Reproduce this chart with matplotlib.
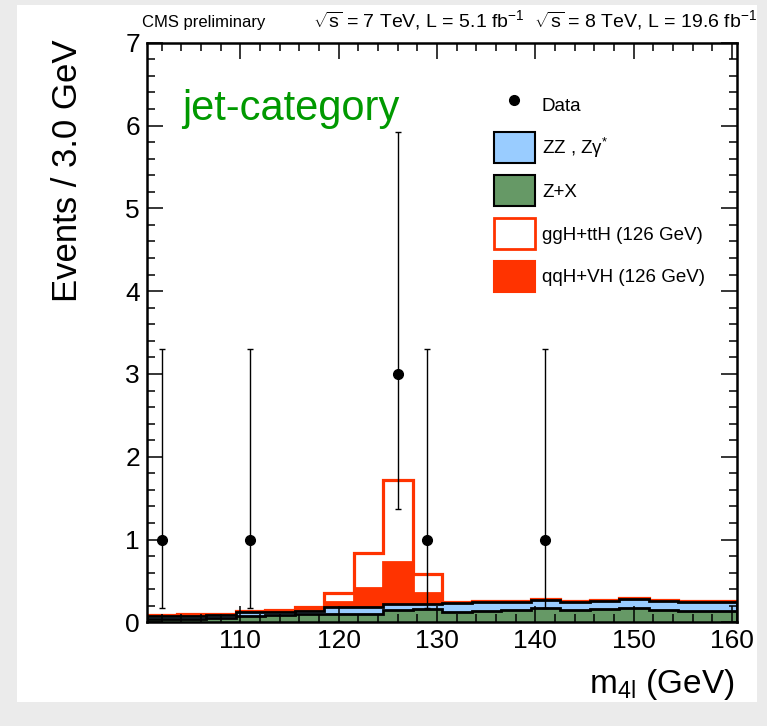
import numpy as np
import matplotlib.pyplot as plt
from matplotlib.patches import Patch, Rectangle
from matplotlib.lines import Line2D
from matplotlib.ticker import MultipleLocator

plt.rcParams['font.family'] = 'Liberation Sans'
plt.rcParams['mathtext.fontset'] = 'custom'
plt.rcParams['mathtext.rm'] = 'Liberation Sans'
plt.rcParams['mathtext.it'] = 'Liberation Sans:italic'
plt.rcParams['mathtext.sf'] = 'Liberation Sans'

# 3 GeV bins, 100.5 - 160.5 GeV
bin_centers = [102, 105, 108, 111, 114, 117, 120, 123, 126, 129,
               132, 135, 138, 141, 144, 147, 150, 153, 156, 159]
bin_width = 3.0

# expected yields per bin (stacked bottom -> top)
zx = [0.040, 0.045, 0.055, 0.080, 0.090, 0.100, 0.100, 0.100, 0.150, 0.160,
      0.130, 0.140, 0.150, 0.170, 0.150, 0.160, 0.175, 0.150, 0.140, 0.140]
zz = [0.035, 0.035, 0.035, 0.040, 0.035, 0.037, 0.080, 0.080, 0.068, 0.060,
      0.107, 0.105, 0.095, 0.100, 0.100, 0.095, 0.103, 0.110, 0.110, 0.110]
qqh = [0.004, 0.004, 0.004, 0.005, 0.006, 0.020, 0.070, 0.230, 0.510, 0.130,
       0.005, 0.004, 0.004, 0.004, 0.004, 0.004, 0.004, 0.004, 0.004, 0.004]
ggh = [0.012, 0.011, 0.011, 0.015, 0.019, 0.033, 0.100, 0.430, 0.990, 0.230,
       0.008, 0.008, 0.008, 0.008, 0.008, 0.008, 0.008, 0.008, 0.008, 0.008]

# observed events with Poisson intervals
data_x = [102, 111, 126, 129, 141]
data_y = [1, 1, 3, 1, 1]
data_err_lo = [0.827, 0.827, 1.633, 0.827, 0.827]
data_err_hi = [2.300, 2.300, 2.918, 2.300, 2.300]

c_zz = '#99ccff'
c_zx = '#669966'
c_higgs = '#ff3300'

edges = np.append(np.array(bin_centers) - bin_width / 2, bin_centers[-1] + bin_width / 2)
top_zx = np.array(zx)
top_zz = top_zx + np.array(zz)
top_qqh = top_zz + np.array(qqh)
top_ggh = top_qqh + np.array(ggh)

fig = plt.figure(figsize=(7.67, 7.26), dpi=100)
fig.patch.set_facecolor('#ebebeb')
fig.patches.append(Rectangle((17 / 767, 24 / 726), 740 / 767, 697 / 726,
                             transform=fig.transFigure, facecolor='white',
                             edgecolor='none', zorder=-1))

ax = fig.add_axes([147 / 767, 103.7 / 726, 590 / 767, 579.5 / 726])

# stack drawn from the total downwards
ax.stairs(top_ggh, edges, baseline=0, fill=False, edgecolor=c_higgs, linewidth=2.3)
ax.stairs(top_qqh, edges, baseline=0, fill=True, facecolor=c_higgs,
          edgecolor=c_higgs, linewidth=2)
ax.stairs(top_zz, edges, baseline=0, fill=True, facecolor=c_zz,
          edgecolor='black', linewidth=2)
ax.stairs(top_zx, edges, baseline=0, fill=True, facecolor=c_zx,
          edgecolor='black', linewidth=2)

ax.errorbar(data_x, data_y, yerr=[data_err_lo, data_err_hi], fmt='o', color='black',
            markersize=7, elinewidth=1, capsize=2.5, capthick=1, zorder=5)

ax.set_xlim(edges[0], edges[-1])
ax.set_ylim(0, 7)
ax.set_xticks([110, 120, 130, 140, 150, 160])
ax.xaxis.set_minor_locator(MultipleLocator(2))
ax.yaxis.set_major_locator(MultipleLocator(1))
ax.yaxis.set_minor_locator(MultipleLocator(0.2))
ax.tick_params(which='both', direction='in', top=True, right=True, labelsize=19)
ax.tick_params(which='major', length=11.5, width=1.1, pad=5)
ax.tick_params(which='minor', length=5.8, width=1.1)
for sp in ax.spines.values():
    sp.set_linewidth(1.8)

ax.set_ylabel('Events / 3.0 GeV', fontsize=25, loc='top')
ax.yaxis.set_label_coords(-0.107, 1.005)
ax.set_xlabel(r'$\mathregular{m_{4l}}$ (GeV)', fontsize=24, loc='right')
ax.xaxis.set_label_coords(0.9966, -0.077)

ax.text(0.0593, 0.867, 'jet-category', transform=ax.transAxes, fontsize=30,
        color='#009900', ha='left', va='baseline')

fig.text(142 / 767, 1 - 27 / 726, 'CMS preliminary', fontsize=12, va='baseline')
fig.text(757 / 767, 1 - 27 / 726,
         r'$\mathregular{\sqrt{s}}$ = 7 TeV, L = 5.1 fb$^{\mathregular{-1}}$  '
         r'$\mathregular{\sqrt{s}}$ = 8 TeV, L = 19.6 fb$^{\mathregular{-1}}$',
         fontsize=14, va='baseline', ha='right')

handles = [
    Line2D([], [], marker='o', color='black', linestyle='none', markersize=7),
    Patch(facecolor=c_zz, edgecolor='black', linewidth=1.5),
    Patch(facecolor=c_zx, edgecolor='black', linewidth=1.5),
    Patch(facecolor='white', edgecolor=c_higgs, linewidth=2),
    Patch(facecolor=c_higgs, edgecolor=c_higgs, linewidth=1.5),
]
labels = ['Data', 'ZZ , Zγ$^{*}$', 'Z+X', 'ggH+ttH (126 GeV)', 'qqH+VH (126 GeV)']
ax.legend(handles, labels, loc='upper left', bbox_to_anchor=(0.588, 0.92),
          frameon=False, fontsize=13.5, handlelength=2.19, handleheight=2.166,
          labelspacing=0.64, handletextpad=0.37, borderpad=0, borderaxespad=0)

fig.savefig('out.png', dpi=100, facecolor=fig.get_facecolor())
